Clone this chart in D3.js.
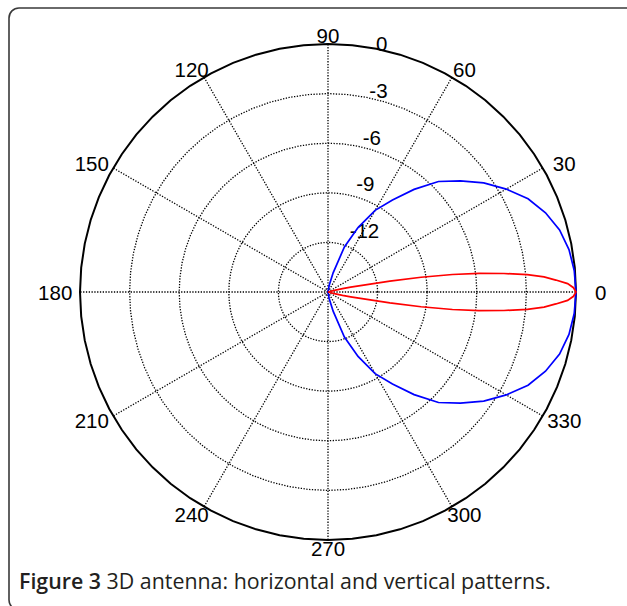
<!DOCTYPE html>
<html>
<head>
<meta charset="utf-8">
<script src="https://cdn.jsdelivr.net/npm/d3@7"></script>
<style>
  html, body { margin: 0; padding: 0; background: #fff; }
  svg { display: block; }
  .lbl { font-family: "Liberation Sans", Arial, Helvetica, sans-serif; font-size: 20.5px; fill: #000; }
</style>
</head>
<body>
<svg id="chart" width="627" height="606"></svg>
<script>
// Angle spokes (degrees) and ring levels (dB)
const spokeAngles = [0, 30, 60, 90, 120, 150, 180, 210, 240, 270, 300, 330];
const ringLevels = [-12, -9, -6, -3, 0];
const ringLabels = ["0", "-3", "-6", "-9", "-12"];
const ringLabelValues = [0, -3, -6, -9, -12];

// Horizontal pattern (red): angle in degrees, gain in dB (symmetric about 0°)
const redAngles = [0, 1, 2, 3, 4, 5, 6, 7, 8, 9, 10, 11, 12, 13, 14, 15];
const redGain   = [0, -0.15, -0.5, -1.2, -1.9, -2.9, -4.3, -5.8, -7.4, -9.3, -11.2, -12.8, -13.6, -14.1, -14.6, -15];

// Vertical pattern (blue): angle in degrees, gain in dB (symmetric about 0°)
const blueAngles = [0, 5, 10, 15, 20, 25, 30, 35, 40, 45, 50, 55, 60, 65, 70, 75, 80, 85, 90];
const blueGain   = [0, -0.05, -0.2, -0.5, -1.0, -1.65, -2.55, -3.5, -4.55, -5.55, -6.9, -8.2, -9.3, -10.7, -12.1, -13.8, -14.6, -15, -15];

const svg = d3.select("#chart");
const cx = 328, cy = 292, R = 248;
const rScale = d3.scaleLinear().domain([-15, 0]).range([0, R]).clamp(true);
const toRad = d => d * Math.PI / 180;

// Figure frame
svg.append("rect")
  .attr("x", 9).attr("y", 8)
  .attr("width", 640).attr("height", 602)
  .attr("rx", 10).attr("ry", 10)
  .attr("fill", "none").attr("stroke", "#3a3a3a").attr("stroke-width", 1.6);

const g = svg.append("g").attr("transform", `translate(${cx},${cy})`);

// Polygonal circle helper
const segs = 64;
const circlePts = r => d3.range(segs + 1).map(i => {
  const a = 2 * Math.PI * i / segs;
  return [r * Math.cos(a), -r * Math.sin(a)];
});
const line = d3.line();

// Dotted rings
ringLevels.filter(v => v < 0).forEach(v => {
  g.append("path")
    .attr("d", line(circlePts(rScale(v))))
    .attr("fill", "none").attr("stroke", "#000")
    .attr("stroke-width", 1.3).attr("stroke-dasharray", "1.3,1.5");
});

// Dotted spokes
spokeAngles.forEach(a => {
  g.append("line")
    .attr("x1", 0).attr("y1", 0)
    .attr("x2", R * Math.cos(toRad(a)))
    .attr("y2", -R * Math.sin(toRad(a)))
    .attr("stroke", "#000").attr("stroke-width", 1.3)
    .attr("stroke-dasharray", "1.3,1.5");
});

// Outer boundary
g.append("path")
  .attr("d", line(circlePts(rScale(0))))
  .attr("fill", "none").attr("stroke", "#000").attr("stroke-width", 2);

// Angle labels
spokeAngles.forEach(a => {
  g.append("text")
    .attr("class", "lbl")
    .attr("x", 1.1 * R * Math.cos(toRad(a)))
    .attr("y", -1.035 * R * Math.sin(toRad(a)))
    .attr("text-anchor", "middle")
    .attr("dominant-baseline", "central")
    .text(a);
});

// Ring labels along 82°
ringLabelValues.forEach((v, i) => {
  const rl = 0.95 * rScale(v) + 15;
  g.append("text")
    .attr("class", "lbl")
    .attr("x", rl * Math.cos(toRad(82)) + 13)
    .attr("y", -rl * Math.sin(toRad(82)))
    .attr("text-anchor", "start")
    .attr("dominant-baseline", "central")
    .text(ringLabels[i]);
});

// Build a symmetric pattern from one half
function pattern(angles, gains) {
  const pts = [];
  for (let i = angles.length - 1; i > 0; i--) pts.push([-angles[i], gains[i]]);
  for (let i = 0; i < angles.length; i++) pts.push([angles[i], gains[i]]);
  return pts;
}

const radial = d3.lineRadial()
  .angle(d => Math.PI / 2 - toRad(d[0]))
  .radius(d => rScale(d[1]));

g.append("path")
  .attr("d", radial(pattern(blueAngles, blueGain)))
  .attr("fill", "none").attr("stroke", "#0000ff").attr("stroke-width", 1.7);

g.append("path")
  .attr("d", radial(pattern(redAngles, redGain)))
  .attr("fill", "none").attr("stroke", "#ff0000").attr("stroke-width", 1.7);

// Caption
const cap = svg.append("text")
  .attr("x", 19).attr("y", 589)
  .attr("font-family", "'Open Sans', 'Noto Sans', sans-serif")
  .attr("font-size", 17)
  .attr("fill", "#231f20");
cap.append("tspan").attr("font-weight", 600).text("Figure 3");
cap.append("tspan").text(" 3D antenna: horizontal and vertical patterns.");
const w = cap.node().getComputedTextLength();
cap.attr("font-size", 17 * 532 / w);
</script>
</body>
</html>
